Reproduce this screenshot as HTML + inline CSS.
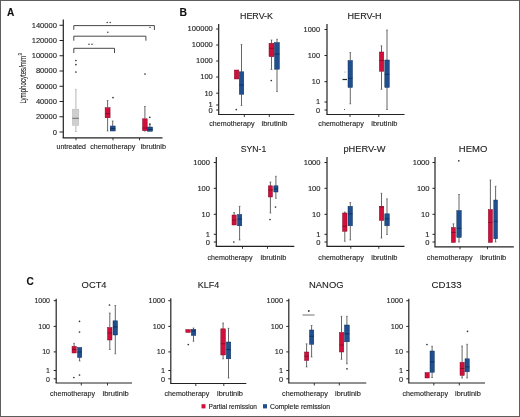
<!DOCTYPE html>
<html><head><meta charset="utf-8"><style>
html,body{margin:0;padding:0;background:#fff;width:520px;height:417px;overflow:hidden;}
svg{display:block;filter:blur(0.35px);font-family:"Liberation Sans", sans-serif;} text{stroke:#222;stroke-width:0.12px;}
</style></head><body>
<svg width="520" height="417" viewBox="0 0 520 417">
<rect x="0" y="0" width="520" height="417" fill="#ffffff"/>
<text x="7.00" y="15.60" font-size="10.5" font-weight="bold" fill="#111" text-anchor="start" textLength="7.30" lengthAdjust="spacingAndGlyphs">A</text>
<line x1="63.30" y1="19.50" x2="63.30" y2="138.00" stroke="#222222" stroke-width="1.2"/>
<line x1="59.50" y1="132.00" x2="63.30" y2="132.00" stroke="#222222" stroke-width="1.0"/>
<text x="52.70" y="135.00" font-size="7.2" font-weight="normal" fill="#222" text-anchor="start" textLength="4.20" lengthAdjust="spacingAndGlyphs">0</text>
<line x1="59.50" y1="116.75" x2="63.30" y2="116.75" stroke="#222222" stroke-width="1.0"/>
<text x="35.90" y="119.05" font-size="7.2" font-weight="normal" fill="#222" text-anchor="start" textLength="21.00" lengthAdjust="spacingAndGlyphs">20000</text>
<line x1="59.50" y1="101.50" x2="63.30" y2="101.50" stroke="#222222" stroke-width="1.0"/>
<text x="35.90" y="103.80" font-size="7.2" font-weight="normal" fill="#222" text-anchor="start" textLength="21.00" lengthAdjust="spacingAndGlyphs">40000</text>
<line x1="59.50" y1="86.25" x2="63.30" y2="86.25" stroke="#222222" stroke-width="1.0"/>
<text x="35.90" y="88.55" font-size="7.2" font-weight="normal" fill="#222" text-anchor="start" textLength="21.00" lengthAdjust="spacingAndGlyphs">60000</text>
<line x1="59.50" y1="71.00" x2="63.30" y2="71.00" stroke="#222222" stroke-width="1.0"/>
<text x="35.90" y="73.30" font-size="7.2" font-weight="normal" fill="#222" text-anchor="start" textLength="21.00" lengthAdjust="spacingAndGlyphs">80000</text>
<line x1="59.50" y1="55.75" x2="63.30" y2="55.75" stroke="#222222" stroke-width="1.0"/>
<text x="31.70" y="58.05" font-size="7.2" font-weight="normal" fill="#222" text-anchor="start" textLength="25.20" lengthAdjust="spacingAndGlyphs">100000</text>
<line x1="59.50" y1="40.50" x2="63.30" y2="40.50" stroke="#222222" stroke-width="1.0"/>
<text x="31.70" y="42.80" font-size="7.2" font-weight="normal" fill="#222" text-anchor="start" textLength="25.20" lengthAdjust="spacingAndGlyphs">120000</text>
<line x1="59.50" y1="25.25" x2="63.30" y2="25.25" stroke="#222222" stroke-width="1.0"/>
<text x="31.70" y="27.55" font-size="7.2" font-weight="normal" fill="#222" text-anchor="start" textLength="25.20" lengthAdjust="spacingAndGlyphs">140000</text>
<line x1="62.70" y1="137.80" x2="162.50" y2="137.80" stroke="#222222" stroke-width="1.2"/>
<line x1="76.00" y1="137.80" x2="76.00" y2="140.30" stroke="#222222" stroke-width="0.9"/>
<line x1="113.00" y1="137.80" x2="113.00" y2="140.30" stroke="#222222" stroke-width="0.9"/>
<line x1="139.50" y1="137.80" x2="139.50" y2="140.30" stroke="#222222" stroke-width="0.9"/>
<text x="56.50" y="149.30" font-size="7.5" font-weight="normal" fill="#222" text-anchor="start" textLength="29.50" lengthAdjust="spacingAndGlyphs">untreated</text>
<text x="90.20" y="149.30" font-size="7.5" font-weight="normal" fill="#222" text-anchor="start" textLength="45.10" lengthAdjust="spacingAndGlyphs">chemotherapy</text>
<text x="140.70" y="149.30" font-size="7.5" font-weight="normal" fill="#222" text-anchor="start" textLength="25.30" lengthAdjust="spacingAndGlyphs">ibrutinib</text>
<g transform="translate(25.7,103.6) rotate(-90)">
<text x="0.00" y="0.00" font-size="8.6" font-weight="normal" fill="#222" text-anchor="start" textLength="47.60" lengthAdjust="spacingAndGlyphs">Lymphocytes/mm</text>
<text x="48.20" y="-4.20" font-size="5.6" font-weight="normal" fill="#222" text-anchor="start" textLength="2.40" lengthAdjust="spacingAndGlyphs">3</text>
</g>
<polyline points="73.8,29.8 73.8,25.6 154.4,25.6 154.4,30.0" fill="none" stroke="#333" stroke-width="0.9"/>
<polyline points="73.8,40.7 73.8,36.2 145.9,36.2 145.9,40.7" fill="none" stroke="#333" stroke-width="0.9"/>
<polyline points="73.8,53.0 73.8,48.3 114.5,48.3 114.5,53.0" fill="none" stroke="#333" stroke-width="0.9"/>
<circle cx="107.20" cy="22.40" r="0.75" fill="#333"/>
<circle cx="110.20" cy="22.40" r="0.75" fill="#333"/>
<circle cx="107.80" cy="32.20" r="0.75" fill="#333"/>
<circle cx="89.00" cy="44.20" r="0.75" fill="#333"/>
<circle cx="92.00" cy="44.20" r="0.75" fill="#333"/>
<line x1="149.00" y1="27.40" x2="151.00" y2="27.40" stroke="#555" stroke-width="0.8"/>
<line x1="75.90" y1="89.30" x2="75.90" y2="109.20" stroke="#a8a8a8" stroke-width="0.85"/>
<line x1="75.00" y1="89.30" x2="76.80" y2="89.30" stroke="#a8a8a8" stroke-width="0.6"/>
<line x1="75.90" y1="125.40" x2="75.90" y2="131.50" stroke="#a8a8a8" stroke-width="0.85"/>
<line x1="75.00" y1="131.50" x2="76.80" y2="131.50" stroke="#a8a8a8" stroke-width="0.6"/>
<rect x="72.30" y="109.20" width="6.50" height="16.20" fill="#cfcfcf" stroke="#b5b5b5" stroke-width="0.45"/>
<line x1="72.30" y1="118.30" x2="78.80" y2="118.30" stroke="#555555" stroke-width="0.8"/>
<circle cx="75.90" cy="60.50" r="0.85" fill="#333"/>
<circle cx="75.90" cy="64.60" r="0.85" fill="#333"/>
<circle cx="75.90" cy="72.00" r="0.85" fill="#333"/>
<line x1="107.60" y1="100.50" x2="107.60" y2="107.70" stroke="#4a4a4a" stroke-width="0.85"/>
<line x1="106.70" y1="100.50" x2="108.50" y2="100.50" stroke="#4a4a4a" stroke-width="0.6"/>
<line x1="107.60" y1="117.80" x2="107.60" y2="131.00" stroke="#4a4a4a" stroke-width="0.85"/>
<line x1="106.70" y1="131.00" x2="108.50" y2="131.00" stroke="#4a4a4a" stroke-width="0.6"/>
<rect x="105.10" y="107.70" width="5.00" height="10.10" fill="#d0103a" stroke="#7a0a25" stroke-width="0.45"/>
<line x1="105.10" y1="113.70" x2="110.10" y2="113.70" stroke="#7a0a25" stroke-width="0.8"/>
<line x1="112.70" y1="121.00" x2="112.70" y2="126.00" stroke="#4a4a4a" stroke-width="0.85"/>
<line x1="111.80" y1="121.00" x2="113.60" y2="121.00" stroke="#4a4a4a" stroke-width="0.6"/>
<rect x="110.20" y="126.00" width="5.00" height="5.00" fill="#1f4f8e" stroke="#0b2a52" stroke-width="0.45"/>
<line x1="110.20" y1="128.50" x2="115.20" y2="128.50" stroke="#0b2a52" stroke-width="0.8"/>
<circle cx="113.00" cy="97.60" r="0.85" fill="#333"/>
<line x1="144.90" y1="106.50" x2="144.90" y2="118.80" stroke="#4a4a4a" stroke-width="0.85"/>
<line x1="144.00" y1="106.50" x2="145.80" y2="106.50" stroke="#4a4a4a" stroke-width="0.6"/>
<line x1="144.90" y1="130.70" x2="144.90" y2="131.00" stroke="#4a4a4a" stroke-width="0.85"/>
<line x1="144.00" y1="131.00" x2="145.80" y2="131.00" stroke="#4a4a4a" stroke-width="0.6"/>
<rect x="142.50" y="118.80" width="4.70" height="11.90" fill="#d0103a" stroke="#7a0a25" stroke-width="0.45"/>
<line x1="142.50" y1="128.00" x2="147.20" y2="128.00" stroke="#7a0a25" stroke-width="0.8"/>
<circle cx="145.00" cy="74.00" r="0.85" fill="#333"/>
<line x1="149.90" y1="124.50" x2="149.90" y2="127.00" stroke="#4a4a4a" stroke-width="0.85"/>
<line x1="149.00" y1="124.50" x2="150.80" y2="124.50" stroke="#4a4a4a" stroke-width="0.6"/>
<rect x="147.30" y="127.00" width="5.30" height="4.30" fill="#1f4f8e" stroke="#0b2a52" stroke-width="0.45"/>
<line x1="147.30" y1="129.50" x2="152.60" y2="129.50" stroke="#0b2a52" stroke-width="0.8"/>
<circle cx="149.80" cy="117.30" r="0.85" fill="#333"/>
<circle cx="149.80" cy="124.00" r="0.85" fill="#333"/>
<text x="179.50" y="15.60" font-size="10.5" font-weight="bold" fill="#111" text-anchor="start" textLength="7.50" lengthAdjust="spacingAndGlyphs">B</text>
<text x="240.00" y="19.20" font-size="9.2" font-weight="normal" fill="#222" text-anchor="start" textLength="33.00" lengthAdjust="spacingAndGlyphs">HERV-K</text>
<line x1="218.70" y1="24.00" x2="218.70" y2="114.50" stroke="#222222" stroke-width="1.2"/>
<line x1="216.20" y1="29.00" x2="218.70" y2="29.00" stroke="#222222" stroke-width="1.0"/>
<text x="187.60" y="31.30" font-size="7.0" font-weight="normal" fill="#222" text-anchor="start" textLength="25.20" lengthAdjust="spacingAndGlyphs">100000</text>
<line x1="216.20" y1="45.00" x2="218.70" y2="45.00" stroke="#222222" stroke-width="1.0"/>
<text x="191.80" y="47.30" font-size="7.0" font-weight="normal" fill="#222" text-anchor="start" textLength="21.00" lengthAdjust="spacingAndGlyphs">10000</text>
<line x1="216.20" y1="61.00" x2="218.70" y2="61.00" stroke="#222222" stroke-width="1.0"/>
<text x="196.00" y="63.30" font-size="7.0" font-weight="normal" fill="#222" text-anchor="start" textLength="16.80" lengthAdjust="spacingAndGlyphs">1000</text>
<line x1="216.20" y1="77.00" x2="218.70" y2="77.00" stroke="#222222" stroke-width="1.0"/>
<text x="200.20" y="79.30" font-size="7.0" font-weight="normal" fill="#222" text-anchor="start" textLength="12.60" lengthAdjust="spacingAndGlyphs">100</text>
<line x1="216.20" y1="93.20" x2="218.70" y2="93.20" stroke="#222222" stroke-width="1.0"/>
<text x="204.40" y="95.50" font-size="7.0" font-weight="normal" fill="#222" text-anchor="start" textLength="8.40" lengthAdjust="spacingAndGlyphs">10</text>
<line x1="216.20" y1="105.00" x2="218.70" y2="105.00" stroke="#222222" stroke-width="1.0"/>
<text x="208.60" y="107.30" font-size="7.0" font-weight="normal" fill="#222" text-anchor="start" textLength="4.20" lengthAdjust="spacingAndGlyphs">1</text>
<line x1="216.20" y1="110.00" x2="218.70" y2="110.00" stroke="#222222" stroke-width="1.0"/>
<text x="208.60" y="113.00" font-size="7.0" font-weight="normal" fill="#222" text-anchor="start" textLength="4.20" lengthAdjust="spacingAndGlyphs">0</text>
<line x1="218.10" y1="114.50" x2="294.30" y2="114.50" stroke="#222222" stroke-width="1.2"/>
<line x1="244.30" y1="114.50" x2="244.30" y2="117.00" stroke="#222222" stroke-width="0.9"/>
<line x1="269.30" y1="114.50" x2="269.30" y2="117.00" stroke="#222222" stroke-width="0.9"/>
<text x="209.30" y="126.30" font-size="7.5" font-weight="normal" fill="#222" text-anchor="start" textLength="45.20" lengthAdjust="spacingAndGlyphs">chemotherapy</text>
<text x="261.50" y="126.30" font-size="7.5" font-weight="normal" fill="#222" text-anchor="start" textLength="26.00" lengthAdjust="spacingAndGlyphs">ibrutinib</text>
<rect x="234.30" y="70.00" width="4.50" height="9.00" fill="#d0103a" stroke="#7a0a25" stroke-width="0.45"/>
<circle cx="236.30" cy="109.50" r="0.85" fill="#333"/>
<line x1="241.50" y1="44.50" x2="241.50" y2="71.80" stroke="#4a4a4a" stroke-width="0.85"/>
<line x1="240.60" y1="44.50" x2="242.40" y2="44.50" stroke="#4a4a4a" stroke-width="0.6"/>
<line x1="241.50" y1="94.30" x2="241.50" y2="105.50" stroke="#4a4a4a" stroke-width="0.85"/>
<line x1="240.60" y1="105.50" x2="242.40" y2="105.50" stroke="#4a4a4a" stroke-width="0.6"/>
<rect x="239.30" y="71.80" width="4.50" height="22.50" fill="#1f4f8e" stroke="#0b2a52" stroke-width="0.45"/>
<line x1="239.30" y1="85.00" x2="243.80" y2="85.00" stroke="#0b2a52" stroke-width="0.8"/>
<line x1="271.50" y1="40.00" x2="271.50" y2="43.20" stroke="#4a4a4a" stroke-width="0.85"/>
<line x1="270.60" y1="40.00" x2="272.40" y2="40.00" stroke="#4a4a4a" stroke-width="0.6"/>
<line x1="271.50" y1="56.70" x2="271.50" y2="69.50" stroke="#4a4a4a" stroke-width="0.85"/>
<line x1="270.60" y1="69.50" x2="272.40" y2="69.50" stroke="#4a4a4a" stroke-width="0.6"/>
<rect x="269.00" y="43.20" width="5.10" height="13.50" fill="#d0103a" stroke="#7a0a25" stroke-width="0.45"/>
<line x1="269.00" y1="48.30" x2="274.10" y2="48.30" stroke="#7a0a25" stroke-width="0.8"/>
<circle cx="271.30" cy="80.50" r="0.85" fill="#333"/>
<line x1="277.00" y1="39.30" x2="277.00" y2="42.50" stroke="#4a4a4a" stroke-width="0.85"/>
<line x1="276.10" y1="39.30" x2="277.90" y2="39.30" stroke="#4a4a4a" stroke-width="0.6"/>
<line x1="277.00" y1="69.20" x2="277.00" y2="91.50" stroke="#4a4a4a" stroke-width="0.85"/>
<line x1="276.10" y1="91.50" x2="277.90" y2="91.50" stroke="#4a4a4a" stroke-width="0.6"/>
<rect x="274.60" y="42.50" width="4.80" height="26.70" fill="#1f4f8e" stroke="#0b2a52" stroke-width="0.45"/>
<line x1="274.60" y1="54.00" x2="279.40" y2="54.00" stroke="#0b2a52" stroke-width="0.8"/>
<text x="347.60" y="19.20" font-size="9.2" font-weight="normal" fill="#222" text-anchor="start" textLength="34.00" lengthAdjust="spacingAndGlyphs">HERV-H</text>
<line x1="327.00" y1="24.00" x2="327.00" y2="114.50" stroke="#222222" stroke-width="1.2"/>
<line x1="324.50" y1="29.50" x2="327.00" y2="29.50" stroke="#222222" stroke-width="1.0"/>
<text x="303.60" y="31.80" font-size="7.0" font-weight="normal" fill="#222" text-anchor="start" textLength="16.40" lengthAdjust="spacingAndGlyphs">1000</text>
<line x1="324.50" y1="55.50" x2="327.00" y2="55.50" stroke="#222222" stroke-width="1.0"/>
<text x="307.70" y="57.80" font-size="7.0" font-weight="normal" fill="#222" text-anchor="start" textLength="12.30" lengthAdjust="spacingAndGlyphs">100</text>
<line x1="324.50" y1="81.70" x2="327.00" y2="81.70" stroke="#222222" stroke-width="1.0"/>
<text x="311.80" y="84.00" font-size="7.0" font-weight="normal" fill="#222" text-anchor="start" textLength="8.20" lengthAdjust="spacingAndGlyphs">10</text>
<line x1="324.50" y1="102.00" x2="327.00" y2="102.00" stroke="#222222" stroke-width="1.0"/>
<text x="315.90" y="104.30" font-size="7.0" font-weight="normal" fill="#222" text-anchor="start" textLength="4.10" lengthAdjust="spacingAndGlyphs">1</text>
<line x1="324.50" y1="110.00" x2="327.00" y2="110.00" stroke="#222222" stroke-width="1.0"/>
<text x="315.90" y="113.00" font-size="7.0" font-weight="normal" fill="#222" text-anchor="start" textLength="4.10" lengthAdjust="spacingAndGlyphs">0</text>
<line x1="326.40" y1="114.50" x2="404.50" y2="114.50" stroke="#222222" stroke-width="1.2"/>
<line x1="350.00" y1="114.50" x2="350.00" y2="117.00" stroke="#222222" stroke-width="0.9"/>
<line x1="378.80" y1="114.50" x2="378.80" y2="117.00" stroke="#222222" stroke-width="0.9"/>
<text x="318.30" y="126.30" font-size="7.5" font-weight="normal" fill="#222" text-anchor="start" textLength="45.50" lengthAdjust="spacingAndGlyphs">chemotherapy</text>
<text x="371.30" y="126.30" font-size="7.5" font-weight="normal" fill="#222" text-anchor="start" textLength="26.20" lengthAdjust="spacingAndGlyphs">ibrutinib</text>
<line x1="342.50" y1="79.50" x2="347.00" y2="79.50" stroke="#222" stroke-width="1.2"/>
<circle cx="345.00" cy="72.00" r="0.5" fill="#777"/>
<circle cx="344.50" cy="109.50" r="0.55" fill="#333"/>
<line x1="350.30" y1="52.50" x2="350.30" y2="60.50" stroke="#4a4a4a" stroke-width="0.85"/>
<line x1="349.40" y1="52.50" x2="351.20" y2="52.50" stroke="#4a4a4a" stroke-width="0.6"/>
<line x1="350.30" y1="87.50" x2="350.30" y2="103.80" stroke="#4a4a4a" stroke-width="0.85"/>
<line x1="349.40" y1="103.80" x2="351.20" y2="103.80" stroke="#4a4a4a" stroke-width="0.6"/>
<rect x="348.00" y="60.50" width="4.50" height="27.00" fill="#1f4f8e" stroke="#0b2a52" stroke-width="0.45"/>
<line x1="348.00" y1="78.30" x2="352.50" y2="78.30" stroke="#0b2a52" stroke-width="0.8"/>
<line x1="381.50" y1="45.80" x2="381.50" y2="52.00" stroke="#4a4a4a" stroke-width="0.85"/>
<line x1="380.60" y1="45.80" x2="382.40" y2="45.80" stroke="#4a4a4a" stroke-width="0.6"/>
<line x1="381.50" y1="71.30" x2="381.50" y2="89.30" stroke="#4a4a4a" stroke-width="0.85"/>
<line x1="380.60" y1="89.30" x2="382.40" y2="89.30" stroke="#4a4a4a" stroke-width="0.6"/>
<rect x="379.30" y="52.00" width="4.50" height="19.30" fill="#d0103a" stroke="#7a0a25" stroke-width="0.45"/>
<line x1="379.30" y1="60.50" x2="383.80" y2="60.50" stroke="#7a0a25" stroke-width="0.8"/>
<line x1="387.00" y1="30.00" x2="387.00" y2="60.00" stroke="#4a4a4a" stroke-width="0.85"/>
<line x1="386.10" y1="30.00" x2="387.90" y2="30.00" stroke="#4a4a4a" stroke-width="0.6"/>
<line x1="387.00" y1="87.50" x2="387.00" y2="109.50" stroke="#4a4a4a" stroke-width="0.85"/>
<line x1="386.10" y1="109.50" x2="387.90" y2="109.50" stroke="#4a4a4a" stroke-width="0.6"/>
<rect x="384.80" y="60.00" width="4.50" height="27.50" fill="#1f4f8e" stroke="#0b2a52" stroke-width="0.45"/>
<line x1="384.80" y1="74.30" x2="389.30" y2="74.30" stroke="#0b2a52" stroke-width="0.8"/>
<text x="240.75" y="151.80" font-size="9.2" font-weight="normal" fill="#222" text-anchor="start" textLength="25.50" lengthAdjust="spacingAndGlyphs">SYN-1</text>
<line x1="216.30" y1="157.00" x2="216.30" y2="246.30" stroke="#222222" stroke-width="1.2"/>
<line x1="213.80" y1="162.50" x2="216.30" y2="162.50" stroke="#222222" stroke-width="1.0"/>
<text x="193.20" y="164.80" font-size="7.0" font-weight="normal" fill="#222" text-anchor="start" textLength="16.80" lengthAdjust="spacingAndGlyphs">1000</text>
<line x1="213.80" y1="188.30" x2="216.30" y2="188.30" stroke="#222222" stroke-width="1.0"/>
<text x="197.40" y="190.60" font-size="7.0" font-weight="normal" fill="#222" text-anchor="start" textLength="12.60" lengthAdjust="spacingAndGlyphs">100</text>
<line x1="213.80" y1="214.30" x2="216.30" y2="214.30" stroke="#222222" stroke-width="1.0"/>
<text x="201.60" y="216.60" font-size="7.0" font-weight="normal" fill="#222" text-anchor="start" textLength="8.40" lengthAdjust="spacingAndGlyphs">10</text>
<line x1="213.80" y1="234.30" x2="216.30" y2="234.30" stroke="#222222" stroke-width="1.0"/>
<text x="205.80" y="236.60" font-size="7.0" font-weight="normal" fill="#222" text-anchor="start" textLength="4.20" lengthAdjust="spacingAndGlyphs">1</text>
<line x1="213.80" y1="242.00" x2="216.30" y2="242.00" stroke="#222222" stroke-width="1.0"/>
<text x="205.80" y="245.00" font-size="7.0" font-weight="normal" fill="#222" text-anchor="start" textLength="4.20" lengthAdjust="spacingAndGlyphs">0</text>
<line x1="215.70" y1="246.30" x2="294.30" y2="246.30" stroke="#222222" stroke-width="1.2"/>
<line x1="242.50" y1="246.30" x2="242.50" y2="248.80" stroke="#222222" stroke-width="0.9"/>
<line x1="267.50" y1="246.30" x2="267.50" y2="248.80" stroke="#222222" stroke-width="0.9"/>
<text x="207.50" y="260.30" font-size="7.5" font-weight="normal" fill="#222" text-anchor="start" textLength="45.00" lengthAdjust="spacingAndGlyphs">chemotherapy</text>
<text x="260.50" y="260.30" font-size="7.5" font-weight="normal" fill="#222" text-anchor="start" textLength="25.80" lengthAdjust="spacingAndGlyphs">ibrutinib</text>
<line x1="234.10" y1="212.50" x2="234.10" y2="215.00" stroke="#4a4a4a" stroke-width="0.85"/>
<line x1="233.20" y1="212.50" x2="235.00" y2="212.50" stroke="#4a4a4a" stroke-width="0.6"/>
<rect x="232.00" y="215.00" width="4.30" height="10.00" fill="#d0103a" stroke="#7a0a25" stroke-width="0.45"/>
<line x1="232.00" y1="220.00" x2="236.30" y2="220.00" stroke="#7a0a25" stroke-width="0.8"/>
<circle cx="233.80" cy="242.00" r="0.85" fill="#333"/>
<line x1="239.60" y1="206.30" x2="239.60" y2="214.50" stroke="#4a4a4a" stroke-width="0.85"/>
<line x1="238.70" y1="206.30" x2="240.50" y2="206.30" stroke="#4a4a4a" stroke-width="0.6"/>
<line x1="239.60" y1="225.80" x2="239.60" y2="240.00" stroke="#4a4a4a" stroke-width="0.85"/>
<line x1="238.70" y1="240.00" x2="240.50" y2="240.00" stroke="#4a4a4a" stroke-width="0.6"/>
<rect x="237.50" y="214.50" width="4.30" height="11.30" fill="#1f4f8e" stroke="#0b2a52" stroke-width="0.45"/>
<line x1="237.50" y1="219.00" x2="241.80" y2="219.00" stroke="#0b2a52" stroke-width="0.8"/>
<line x1="270.40" y1="182.00" x2="270.40" y2="185.80" stroke="#4a4a4a" stroke-width="0.85"/>
<line x1="269.50" y1="182.00" x2="271.30" y2="182.00" stroke="#4a4a4a" stroke-width="0.6"/>
<line x1="270.40" y1="197.00" x2="270.40" y2="213.00" stroke="#4a4a4a" stroke-width="0.85"/>
<line x1="269.50" y1="213.00" x2="271.30" y2="213.00" stroke="#4a4a4a" stroke-width="0.6"/>
<rect x="268.30" y="185.80" width="4.20" height="11.20" fill="#d0103a" stroke="#7a0a25" stroke-width="0.45"/>
<line x1="268.30" y1="190.00" x2="272.50" y2="190.00" stroke="#7a0a25" stroke-width="0.8"/>
<circle cx="270.00" cy="219.50" r="0.85" fill="#333"/>
<line x1="275.90" y1="176.30" x2="275.90" y2="185.80" stroke="#4a4a4a" stroke-width="0.85"/>
<line x1="275.00" y1="176.30" x2="276.80" y2="176.30" stroke="#4a4a4a" stroke-width="0.6"/>
<line x1="275.90" y1="192.00" x2="275.90" y2="198.30" stroke="#4a4a4a" stroke-width="0.85"/>
<line x1="275.00" y1="198.30" x2="276.80" y2="198.30" stroke="#4a4a4a" stroke-width="0.6"/>
<rect x="273.80" y="185.80" width="4.20" height="6.20" fill="#1f4f8e" stroke="#0b2a52" stroke-width="0.45"/>
<line x1="273.80" y1="189.00" x2="278.00" y2="189.00" stroke="#0b2a52" stroke-width="0.8"/>
<circle cx="275.50" cy="207.00" r="0.85" fill="#333"/>
<text x="343.40" y="151.80" font-size="9.2" font-weight="normal" fill="#222" text-anchor="start" textLength="42.00" lengthAdjust="spacingAndGlyphs">pHERV-W</text>
<line x1="327.00" y1="157.00" x2="327.00" y2="246.30" stroke="#222222" stroke-width="1.2"/>
<line x1="324.50" y1="162.50" x2="327.00" y2="162.50" stroke="#222222" stroke-width="1.0"/>
<text x="303.70" y="164.80" font-size="7.0" font-weight="normal" fill="#222" text-anchor="start" textLength="16.80" lengthAdjust="spacingAndGlyphs">1000</text>
<line x1="324.50" y1="188.30" x2="327.00" y2="188.30" stroke="#222222" stroke-width="1.0"/>
<text x="307.90" y="190.60" font-size="7.0" font-weight="normal" fill="#222" text-anchor="start" textLength="12.60" lengthAdjust="spacingAndGlyphs">100</text>
<line x1="324.50" y1="214.30" x2="327.00" y2="214.30" stroke="#222222" stroke-width="1.0"/>
<text x="312.10" y="216.60" font-size="7.0" font-weight="normal" fill="#222" text-anchor="start" textLength="8.40" lengthAdjust="spacingAndGlyphs">10</text>
<line x1="324.50" y1="234.30" x2="327.00" y2="234.30" stroke="#222222" stroke-width="1.0"/>
<text x="316.30" y="236.60" font-size="7.0" font-weight="normal" fill="#222" text-anchor="start" textLength="4.20" lengthAdjust="spacingAndGlyphs">1</text>
<line x1="324.50" y1="242.00" x2="327.00" y2="242.00" stroke="#222222" stroke-width="1.0"/>
<text x="316.30" y="245.00" font-size="7.0" font-weight="normal" fill="#222" text-anchor="start" textLength="4.20" lengthAdjust="spacingAndGlyphs">0</text>
<line x1="326.40" y1="246.30" x2="404.50" y2="246.30" stroke="#222222" stroke-width="1.2"/>
<line x1="350.80" y1="246.30" x2="350.80" y2="248.80" stroke="#222222" stroke-width="0.9"/>
<line x1="378.80" y1="246.30" x2="378.80" y2="248.80" stroke="#222222" stroke-width="0.9"/>
<text x="318.30" y="260.30" font-size="7.5" font-weight="normal" fill="#222" text-anchor="start" textLength="45.50" lengthAdjust="spacingAndGlyphs">chemotherapy</text>
<text x="371.30" y="260.30" font-size="7.5" font-weight="normal" fill="#222" text-anchor="start" textLength="26.20" lengthAdjust="spacingAndGlyphs">ibrutinib</text>
<line x1="344.80" y1="212.00" x2="344.80" y2="213.00" stroke="#4a4a4a" stroke-width="0.85"/>
<line x1="343.90" y1="212.00" x2="345.70" y2="212.00" stroke="#4a4a4a" stroke-width="0.6"/>
<line x1="344.80" y1="231.30" x2="344.80" y2="241.30" stroke="#4a4a4a" stroke-width="0.85"/>
<line x1="343.90" y1="241.30" x2="345.70" y2="241.30" stroke="#4a4a4a" stroke-width="0.6"/>
<rect x="342.50" y="213.00" width="4.50" height="18.30" fill="#d0103a" stroke="#7a0a25" stroke-width="0.45"/>
<line x1="342.50" y1="226.30" x2="347.00" y2="226.30" stroke="#7a0a25" stroke-width="0.8"/>
<line x1="350.30" y1="202.50" x2="350.30" y2="206.30" stroke="#4a4a4a" stroke-width="0.85"/>
<line x1="349.40" y1="202.50" x2="351.20" y2="202.50" stroke="#4a4a4a" stroke-width="0.6"/>
<line x1="350.30" y1="225.80" x2="350.30" y2="240.00" stroke="#4a4a4a" stroke-width="0.85"/>
<line x1="349.40" y1="240.00" x2="351.20" y2="240.00" stroke="#4a4a4a" stroke-width="0.6"/>
<rect x="348.00" y="206.30" width="4.50" height="19.50" fill="#1f4f8e" stroke="#0b2a52" stroke-width="0.45"/>
<line x1="348.00" y1="213.80" x2="352.50" y2="213.80" stroke="#0b2a52" stroke-width="0.8"/>
<line x1="381.50" y1="193.30" x2="381.50" y2="206.30" stroke="#4a4a4a" stroke-width="0.85"/>
<line x1="380.60" y1="193.30" x2="382.40" y2="193.30" stroke="#4a4a4a" stroke-width="0.6"/>
<line x1="381.50" y1="220.50" x2="381.50" y2="238.00" stroke="#4a4a4a" stroke-width="0.85"/>
<line x1="380.60" y1="238.00" x2="382.40" y2="238.00" stroke="#4a4a4a" stroke-width="0.6"/>
<rect x="379.30" y="206.30" width="4.50" height="14.20" fill="#d0103a" stroke="#7a0a25" stroke-width="0.45"/>
<line x1="379.30" y1="207.00" x2="383.80" y2="207.00" stroke="#7a0a25" stroke-width="0.8"/>
<line x1="387.00" y1="198.80" x2="387.00" y2="213.80" stroke="#4a4a4a" stroke-width="0.85"/>
<line x1="386.10" y1="198.80" x2="387.90" y2="198.80" stroke="#4a4a4a" stroke-width="0.6"/>
<line x1="387.00" y1="225.80" x2="387.00" y2="234.50" stroke="#4a4a4a" stroke-width="0.85"/>
<line x1="386.10" y1="234.50" x2="387.90" y2="234.50" stroke="#4a4a4a" stroke-width="0.6"/>
<rect x="384.80" y="213.80" width="4.50" height="12.00" fill="#1f4f8e" stroke="#0b2a52" stroke-width="0.45"/>
<line x1="384.80" y1="218.80" x2="389.30" y2="218.80" stroke="#0b2a52" stroke-width="0.8"/>
<text x="458.85" y="151.80" font-size="9.2" font-weight="normal" fill="#222" text-anchor="start" textLength="28.50" lengthAdjust="spacingAndGlyphs">HEMO</text>
<line x1="435.00" y1="157.00" x2="435.00" y2="246.80" stroke="#222222" stroke-width="1.2"/>
<line x1="432.50" y1="162.50" x2="435.00" y2="162.50" stroke="#222222" stroke-width="1.0"/>
<text x="412.70" y="164.80" font-size="7.0" font-weight="normal" fill="#222" text-anchor="start" textLength="16.80" lengthAdjust="spacingAndGlyphs">1000</text>
<line x1="432.50" y1="188.30" x2="435.00" y2="188.30" stroke="#222222" stroke-width="1.0"/>
<text x="416.90" y="190.60" font-size="7.0" font-weight="normal" fill="#222" text-anchor="start" textLength="12.60" lengthAdjust="spacingAndGlyphs">100</text>
<line x1="432.50" y1="214.30" x2="435.00" y2="214.30" stroke="#222222" stroke-width="1.0"/>
<text x="421.10" y="216.60" font-size="7.0" font-weight="normal" fill="#222" text-anchor="start" textLength="8.40" lengthAdjust="spacingAndGlyphs">10</text>
<line x1="432.50" y1="234.30" x2="435.00" y2="234.30" stroke="#222222" stroke-width="1.0"/>
<text x="425.30" y="236.60" font-size="7.0" font-weight="normal" fill="#222" text-anchor="start" textLength="4.20" lengthAdjust="spacingAndGlyphs">1</text>
<line x1="432.50" y1="242.00" x2="435.00" y2="242.00" stroke="#222222" stroke-width="1.0"/>
<text x="425.30" y="245.00" font-size="7.0" font-weight="normal" fill="#222" text-anchor="start" textLength="4.20" lengthAdjust="spacingAndGlyphs">0</text>
<line x1="434.40" y1="246.80" x2="513.80" y2="246.80" stroke="#222222" stroke-width="1.2"/>
<line x1="460.00" y1="246.80" x2="460.00" y2="249.30" stroke="#222222" stroke-width="0.9"/>
<line x1="487.50" y1="246.80" x2="487.50" y2="249.30" stroke="#222222" stroke-width="0.9"/>
<text x="426.80" y="260.30" font-size="7.5" font-weight="normal" fill="#222" text-anchor="start" textLength="45.70" lengthAdjust="spacingAndGlyphs">chemotherapy</text>
<text x="480.00" y="260.30" font-size="7.5" font-weight="normal" fill="#222" text-anchor="start" textLength="26.30" lengthAdjust="spacingAndGlyphs">ibrutinib</text>
<line x1="453.40" y1="223.80" x2="453.40" y2="227.50" stroke="#4a4a4a" stroke-width="0.85"/>
<line x1="452.50" y1="223.80" x2="454.30" y2="223.80" stroke="#4a4a4a" stroke-width="0.6"/>
<rect x="451.30" y="227.50" width="4.20" height="15.00" fill="#d0103a" stroke="#7a0a25" stroke-width="0.45"/>
<line x1="451.30" y1="232.50" x2="455.50" y2="232.50" stroke="#7a0a25" stroke-width="0.8"/>
<line x1="459.00" y1="194.50" x2="459.00" y2="210.50" stroke="#4a4a4a" stroke-width="0.85"/>
<line x1="458.10" y1="194.50" x2="459.90" y2="194.50" stroke="#4a4a4a" stroke-width="0.6"/>
<line x1="459.00" y1="237.50" x2="459.00" y2="242.00" stroke="#4a4a4a" stroke-width="0.85"/>
<line x1="458.10" y1="242.00" x2="459.90" y2="242.00" stroke="#4a4a4a" stroke-width="0.6"/>
<rect x="456.80" y="210.50" width="4.50" height="27.00" fill="#1f4f8e" stroke="#0b2a52" stroke-width="0.45"/>
<line x1="456.80" y1="228.30" x2="461.30" y2="228.30" stroke="#0b2a52" stroke-width="0.8"/>
<circle cx="458.80" cy="160.80" r="0.85" fill="#333"/>
<line x1="490.40" y1="180.00" x2="490.40" y2="209.50" stroke="#4a4a4a" stroke-width="0.85"/>
<line x1="489.50" y1="180.00" x2="491.30" y2="180.00" stroke="#4a4a4a" stroke-width="0.6"/>
<rect x="488.30" y="209.50" width="4.20" height="33.00" fill="#d0103a" stroke="#7a0a25" stroke-width="0.45"/>
<line x1="488.30" y1="222.50" x2="492.50" y2="222.50" stroke="#7a0a25" stroke-width="0.8"/>
<line x1="495.60" y1="186.30" x2="495.60" y2="200.00" stroke="#4a4a4a" stroke-width="0.85"/>
<line x1="494.70" y1="186.30" x2="496.50" y2="186.30" stroke="#4a4a4a" stroke-width="0.6"/>
<line x1="495.60" y1="238.80" x2="495.60" y2="242.00" stroke="#4a4a4a" stroke-width="0.85"/>
<line x1="494.70" y1="242.00" x2="496.50" y2="242.00" stroke="#4a4a4a" stroke-width="0.6"/>
<rect x="493.80" y="200.00" width="3.70" height="38.80" fill="#1f4f8e" stroke="#0b2a52" stroke-width="0.45"/>
<line x1="493.80" y1="221.30" x2="497.50" y2="221.30" stroke="#0b2a52" stroke-width="0.8"/>
<text x="26.60" y="284.60" font-size="10.5" font-weight="bold" fill="#111" text-anchor="start" textLength="7.30" lengthAdjust="spacingAndGlyphs">C</text>
<text x="81.60" y="288.00" font-size="9.2" font-weight="normal" fill="#222" text-anchor="start" textLength="25.00" lengthAdjust="spacingAndGlyphs">OCT4</text>
<line x1="56.20" y1="298.70" x2="56.20" y2="383.00" stroke="#222222" stroke-width="1.2"/>
<line x1="53.70" y1="300.70" x2="56.20" y2="300.70" stroke="#222222" stroke-width="1.0"/>
<text x="34.40" y="303.00" font-size="7.0" font-weight="normal" fill="#222" text-anchor="start" textLength="15.60" lengthAdjust="spacingAndGlyphs">1000</text>
<line x1="53.70" y1="326.40" x2="56.20" y2="326.40" stroke="#222222" stroke-width="1.0"/>
<text x="38.30" y="328.70" font-size="7.0" font-weight="normal" fill="#222" text-anchor="start" textLength="11.70" lengthAdjust="spacingAndGlyphs">100</text>
<line x1="53.70" y1="351.90" x2="56.20" y2="351.90" stroke="#222222" stroke-width="1.0"/>
<text x="42.20" y="354.20" font-size="7.0" font-weight="normal" fill="#222" text-anchor="start" textLength="7.80" lengthAdjust="spacingAndGlyphs">10</text>
<line x1="53.70" y1="370.50" x2="56.20" y2="370.50" stroke="#222222" stroke-width="1.0"/>
<text x="46.10" y="372.80" font-size="7.0" font-weight="normal" fill="#222" text-anchor="start" textLength="3.90" lengthAdjust="spacingAndGlyphs">1</text>
<line x1="53.70" y1="378.80" x2="56.20" y2="378.80" stroke="#222222" stroke-width="1.0"/>
<text x="46.10" y="381.80" font-size="7.0" font-weight="normal" fill="#222" text-anchor="start" textLength="3.90" lengthAdjust="spacingAndGlyphs">0</text>
<line x1="55.60" y1="383.00" x2="132.00" y2="383.00" stroke="#222222" stroke-width="1.2"/>
<line x1="81.30" y1="383.00" x2="81.30" y2="385.50" stroke="#222222" stroke-width="0.9"/>
<line x1="107.50" y1="383.00" x2="107.50" y2="385.50" stroke="#222222" stroke-width="0.9"/>
<text x="50.00" y="396.30" font-size="7.5" font-weight="normal" fill="#222" text-anchor="start" textLength="45.00" lengthAdjust="spacingAndGlyphs">chemotherapy</text>
<text x="102.50" y="396.30" font-size="7.5" font-weight="normal" fill="#222" text-anchor="start" textLength="26.30" lengthAdjust="spacingAndGlyphs">ibrutinib</text>
<line x1="74.10" y1="343.30" x2="74.10" y2="346.30" stroke="#4a4a4a" stroke-width="0.85"/>
<line x1="73.20" y1="343.30" x2="75.00" y2="343.30" stroke="#4a4a4a" stroke-width="0.6"/>
<rect x="72.00" y="346.30" width="4.30" height="6.70" fill="#d0103a" stroke="#7a0a25" stroke-width="0.45"/>
<line x1="72.00" y1="349.50" x2="76.30" y2="349.50" stroke="#7a0a25" stroke-width="0.8"/>
<circle cx="73.80" cy="377.50" r="0.85" fill="#333"/>
<line x1="79.60" y1="357.50" x2="79.60" y2="361.00" stroke="#4a4a4a" stroke-width="0.85"/>
<line x1="78.70" y1="361.00" x2="80.50" y2="361.00" stroke="#4a4a4a" stroke-width="0.6"/>
<rect x="77.50" y="347.50" width="4.30" height="10.00" fill="#1f4f8e" stroke="#0b2a52" stroke-width="0.45"/>
<line x1="77.50" y1="352.00" x2="81.80" y2="352.00" stroke="#0b2a52" stroke-width="0.8"/>
<circle cx="79.50" cy="321.30" r="0.85" fill="#333"/>
<circle cx="79.50" cy="332.00" r="0.85" fill="#333"/>
<circle cx="79.50" cy="375.00" r="0.85" fill="#333"/>
<line x1="109.80" y1="313.00" x2="109.80" y2="327.50" stroke="#4a4a4a" stroke-width="0.85"/>
<line x1="108.90" y1="313.00" x2="110.70" y2="313.00" stroke="#4a4a4a" stroke-width="0.6"/>
<line x1="109.80" y1="340.00" x2="109.80" y2="349.50" stroke="#4a4a4a" stroke-width="0.85"/>
<line x1="108.90" y1="349.50" x2="110.70" y2="349.50" stroke="#4a4a4a" stroke-width="0.6"/>
<rect x="107.50" y="327.50" width="4.50" height="12.50" fill="#d0103a" stroke="#7a0a25" stroke-width="0.45"/>
<line x1="107.50" y1="333.00" x2="112.00" y2="333.00" stroke="#7a0a25" stroke-width="0.8"/>
<circle cx="109.50" cy="305.00" r="0.85" fill="#333"/>
<line x1="115.30" y1="305.50" x2="115.30" y2="320.80" stroke="#4a4a4a" stroke-width="0.85"/>
<line x1="114.40" y1="305.50" x2="116.20" y2="305.50" stroke="#4a4a4a" stroke-width="0.6"/>
<line x1="115.30" y1="335.00" x2="115.30" y2="353.80" stroke="#4a4a4a" stroke-width="0.85"/>
<line x1="114.40" y1="353.80" x2="116.20" y2="353.80" stroke="#4a4a4a" stroke-width="0.6"/>
<rect x="113.00" y="320.80" width="4.50" height="14.20" fill="#1f4f8e" stroke="#0b2a52" stroke-width="0.45"/>
<line x1="113.00" y1="327.00" x2="117.50" y2="327.00" stroke="#0b2a52" stroke-width="0.8"/>
<text x="197.75" y="288.00" font-size="9.2" font-weight="normal" fill="#222" text-anchor="start" textLength="21.50" lengthAdjust="spacingAndGlyphs">KLF4</text>
<line x1="170.80" y1="298.30" x2="170.80" y2="383.50" stroke="#222222" stroke-width="1.2"/>
<line x1="168.30" y1="300.70" x2="170.80" y2="300.70" stroke="#222222" stroke-width="1.0"/>
<text x="148.60" y="303.00" font-size="7.0" font-weight="normal" fill="#222" text-anchor="start" textLength="16.40" lengthAdjust="spacingAndGlyphs">1000</text>
<line x1="168.30" y1="326.40" x2="170.80" y2="326.40" stroke="#222222" stroke-width="1.0"/>
<text x="152.70" y="328.70" font-size="7.0" font-weight="normal" fill="#222" text-anchor="start" textLength="12.30" lengthAdjust="spacingAndGlyphs">100</text>
<line x1="168.30" y1="351.90" x2="170.80" y2="351.90" stroke="#222222" stroke-width="1.0"/>
<text x="156.80" y="354.20" font-size="7.0" font-weight="normal" fill="#222" text-anchor="start" textLength="8.20" lengthAdjust="spacingAndGlyphs">10</text>
<line x1="168.30" y1="370.50" x2="170.80" y2="370.50" stroke="#222222" stroke-width="1.0"/>
<text x="160.90" y="372.80" font-size="7.0" font-weight="normal" fill="#222" text-anchor="start" textLength="4.10" lengthAdjust="spacingAndGlyphs">1</text>
<line x1="168.30" y1="378.80" x2="170.80" y2="378.80" stroke="#222222" stroke-width="1.0"/>
<text x="160.90" y="381.80" font-size="7.0" font-weight="normal" fill="#222" text-anchor="start" textLength="4.10" lengthAdjust="spacingAndGlyphs">0</text>
<line x1="170.20" y1="383.50" x2="246.30" y2="383.50" stroke="#222222" stroke-width="1.2"/>
<line x1="195.80" y1="383.50" x2="195.80" y2="386.00" stroke="#222222" stroke-width="0.9"/>
<line x1="223.80" y1="383.50" x2="223.80" y2="386.00" stroke="#222222" stroke-width="0.9"/>
<text x="164.50" y="396.30" font-size="7.5" font-weight="normal" fill="#222" text-anchor="start" textLength="44.80" lengthAdjust="spacingAndGlyphs">chemotherapy</text>
<text x="217.00" y="396.30" font-size="7.5" font-weight="normal" fill="#222" text-anchor="start" textLength="26.00" lengthAdjust="spacingAndGlyphs">ibrutinib</text>
<rect x="185.80" y="329.50" width="4.70" height="3.00" fill="#d0103a" stroke="#7a0a25" stroke-width="0.45"/>
<circle cx="188.30" cy="344.50" r="0.85" fill="#333"/>
<line x1="193.50" y1="328.00" x2="193.50" y2="329.30" stroke="#4a4a4a" stroke-width="0.85"/>
<line x1="192.60" y1="328.00" x2="194.40" y2="328.00" stroke="#4a4a4a" stroke-width="0.6"/>
<line x1="193.50" y1="335.50" x2="193.50" y2="341.30" stroke="#4a4a4a" stroke-width="0.85"/>
<line x1="192.60" y1="341.30" x2="194.40" y2="341.30" stroke="#4a4a4a" stroke-width="0.6"/>
<rect x="191.30" y="329.30" width="4.50" height="6.20" fill="#1f4f8e" stroke="#0b2a52" stroke-width="0.45"/>
<line x1="191.30" y1="331.00" x2="195.80" y2="331.00" stroke="#0b2a52" stroke-width="0.8"/>
<line x1="223.10" y1="323.00" x2="223.10" y2="328.80" stroke="#4a4a4a" stroke-width="0.85"/>
<line x1="222.20" y1="323.00" x2="224.00" y2="323.00" stroke="#4a4a4a" stroke-width="0.6"/>
<line x1="223.10" y1="355.00" x2="223.10" y2="358.80" stroke="#4a4a4a" stroke-width="0.85"/>
<line x1="222.20" y1="358.80" x2="224.00" y2="358.80" stroke="#4a4a4a" stroke-width="0.6"/>
<rect x="220.80" y="328.80" width="4.70" height="26.20" fill="#d0103a" stroke="#7a0a25" stroke-width="0.45"/>
<line x1="220.80" y1="343.80" x2="225.50" y2="343.80" stroke="#7a0a25" stroke-width="0.8"/>
<line x1="228.50" y1="328.30" x2="228.50" y2="342.00" stroke="#4a4a4a" stroke-width="0.85"/>
<line x1="227.60" y1="328.30" x2="229.40" y2="328.30" stroke="#4a4a4a" stroke-width="0.6"/>
<line x1="228.50" y1="358.80" x2="228.50" y2="378.00" stroke="#4a4a4a" stroke-width="0.85"/>
<line x1="227.60" y1="378.00" x2="229.40" y2="378.00" stroke="#4a4a4a" stroke-width="0.6"/>
<rect x="226.30" y="342.00" width="4.50" height="16.80" fill="#1f4f8e" stroke="#0b2a52" stroke-width="0.45"/>
<line x1="226.30" y1="349.50" x2="230.80" y2="349.50" stroke="#0b2a52" stroke-width="0.8"/>
<text x="309.05" y="288.00" font-size="9.2" font-weight="normal" fill="#222" text-anchor="start" textLength="34.50" lengthAdjust="spacingAndGlyphs">NANOG</text>
<line x1="288.80" y1="298.70" x2="288.80" y2="383.00" stroke="#222222" stroke-width="1.2"/>
<line x1="286.30" y1="300.70" x2="288.80" y2="300.70" stroke="#222222" stroke-width="1.0"/>
<text x="266.60" y="303.00" font-size="7.0" font-weight="normal" fill="#222" text-anchor="start" textLength="16.40" lengthAdjust="spacingAndGlyphs">1000</text>
<line x1="286.30" y1="326.40" x2="288.80" y2="326.40" stroke="#222222" stroke-width="1.0"/>
<text x="270.70" y="328.70" font-size="7.0" font-weight="normal" fill="#222" text-anchor="start" textLength="12.30" lengthAdjust="spacingAndGlyphs">100</text>
<line x1="286.30" y1="351.90" x2="288.80" y2="351.90" stroke="#222222" stroke-width="1.0"/>
<text x="274.80" y="354.20" font-size="7.0" font-weight="normal" fill="#222" text-anchor="start" textLength="8.20" lengthAdjust="spacingAndGlyphs">10</text>
<line x1="286.30" y1="370.50" x2="288.80" y2="370.50" stroke="#222222" stroke-width="1.0"/>
<text x="278.90" y="372.80" font-size="7.0" font-weight="normal" fill="#222" text-anchor="start" textLength="4.10" lengthAdjust="spacingAndGlyphs">1</text>
<line x1="286.30" y1="378.80" x2="288.80" y2="378.80" stroke="#222222" stroke-width="1.0"/>
<text x="278.90" y="381.80" font-size="7.0" font-weight="normal" fill="#222" text-anchor="start" textLength="4.10" lengthAdjust="spacingAndGlyphs">0</text>
<line x1="288.20" y1="383.00" x2="366.30" y2="383.00" stroke="#222222" stroke-width="1.2"/>
<line x1="314.30" y1="383.00" x2="314.30" y2="385.50" stroke="#222222" stroke-width="0.9"/>
<line x1="339.30" y1="383.00" x2="339.30" y2="385.50" stroke="#222222" stroke-width="0.9"/>
<text x="282.00" y="396.30" font-size="7.5" font-weight="normal" fill="#222" text-anchor="start" textLength="46.00" lengthAdjust="spacingAndGlyphs">chemotherapy</text>
<text x="335.00" y="396.30" font-size="7.5" font-weight="normal" fill="#222" text-anchor="start" textLength="25.80" lengthAdjust="spacingAndGlyphs">ibrutinib</text>
<line x1="302.50" y1="315.00" x2="314.50" y2="315.00" stroke="#808080" stroke-width="1.1"/>
<circle cx="308.80" cy="311.00" r="0.9" fill="#333"/>
<line x1="306.60" y1="343.80" x2="306.60" y2="352.00" stroke="#4a4a4a" stroke-width="0.85"/>
<line x1="305.70" y1="343.80" x2="307.50" y2="343.80" stroke="#4a4a4a" stroke-width="0.6"/>
<line x1="306.60" y1="360.50" x2="306.60" y2="367.00" stroke="#4a4a4a" stroke-width="0.85"/>
<line x1="305.70" y1="367.00" x2="307.50" y2="367.00" stroke="#4a4a4a" stroke-width="0.6"/>
<rect x="304.50" y="352.00" width="4.30" height="8.50" fill="#d0103a" stroke="#7a0a25" stroke-width="0.45"/>
<line x1="304.50" y1="356.30" x2="308.80" y2="356.30" stroke="#7a0a25" stroke-width="0.8"/>
<line x1="311.60" y1="325.50" x2="311.60" y2="330.00" stroke="#4a4a4a" stroke-width="0.85"/>
<line x1="310.70" y1="325.50" x2="312.50" y2="325.50" stroke="#4a4a4a" stroke-width="0.6"/>
<line x1="311.60" y1="344.30" x2="311.60" y2="357.00" stroke="#4a4a4a" stroke-width="0.85"/>
<line x1="310.70" y1="357.00" x2="312.50" y2="357.00" stroke="#4a4a4a" stroke-width="0.6"/>
<rect x="309.50" y="330.00" width="4.30" height="14.30" fill="#1f4f8e" stroke="#0b2a52" stroke-width="0.45"/>
<line x1="309.50" y1="336.30" x2="313.80" y2="336.30" stroke="#0b2a52" stroke-width="0.8"/>
<line x1="341.50" y1="316.30" x2="341.50" y2="332.50" stroke="#4a4a4a" stroke-width="0.85"/>
<line x1="340.60" y1="316.30" x2="342.40" y2="316.30" stroke="#4a4a4a" stroke-width="0.6"/>
<line x1="341.50" y1="352.00" x2="341.50" y2="359.30" stroke="#4a4a4a" stroke-width="0.85"/>
<line x1="340.60" y1="359.30" x2="342.40" y2="359.30" stroke="#4a4a4a" stroke-width="0.6"/>
<rect x="339.30" y="332.50" width="4.50" height="19.50" fill="#d0103a" stroke="#7a0a25" stroke-width="0.45"/>
<line x1="339.30" y1="345.00" x2="343.80" y2="345.00" stroke="#7a0a25" stroke-width="0.8"/>
<line x1="346.90" y1="316.30" x2="346.90" y2="325.00" stroke="#4a4a4a" stroke-width="0.85"/>
<line x1="346.00" y1="316.30" x2="347.80" y2="316.30" stroke="#4a4a4a" stroke-width="0.6"/>
<line x1="346.90" y1="341.80" x2="346.90" y2="363.80" stroke="#4a4a4a" stroke-width="0.85"/>
<line x1="346.00" y1="363.80" x2="347.80" y2="363.80" stroke="#4a4a4a" stroke-width="0.6"/>
<rect x="344.50" y="325.00" width="4.80" height="16.80" fill="#1f4f8e" stroke="#0b2a52" stroke-width="0.45"/>
<line x1="344.50" y1="333.80" x2="349.30" y2="333.80" stroke="#0b2a52" stroke-width="0.8"/>
<circle cx="347.00" cy="368.80" r="0.85" fill="#333"/>
<text x="431.60" y="288.00" font-size="9.2" font-weight="normal" fill="#222" text-anchor="start" textLength="30.00" lengthAdjust="spacingAndGlyphs">CD133</text>
<line x1="408.80" y1="298.70" x2="408.80" y2="383.00" stroke="#222222" stroke-width="1.2"/>
<line x1="406.30" y1="300.70" x2="408.80" y2="300.70" stroke="#222222" stroke-width="1.0"/>
<text x="386.60" y="303.00" font-size="7.0" font-weight="normal" fill="#222" text-anchor="start" textLength="16.40" lengthAdjust="spacingAndGlyphs">1000</text>
<line x1="406.30" y1="326.40" x2="408.80" y2="326.40" stroke="#222222" stroke-width="1.0"/>
<text x="390.70" y="328.70" font-size="7.0" font-weight="normal" fill="#222" text-anchor="start" textLength="12.30" lengthAdjust="spacingAndGlyphs">100</text>
<line x1="406.30" y1="351.90" x2="408.80" y2="351.90" stroke="#222222" stroke-width="1.0"/>
<text x="394.80" y="354.20" font-size="7.0" font-weight="normal" fill="#222" text-anchor="start" textLength="8.20" lengthAdjust="spacingAndGlyphs">10</text>
<line x1="406.30" y1="370.50" x2="408.80" y2="370.50" stroke="#222222" stroke-width="1.0"/>
<text x="398.90" y="372.80" font-size="7.0" font-weight="normal" fill="#222" text-anchor="start" textLength="4.10" lengthAdjust="spacingAndGlyphs">1</text>
<line x1="406.30" y1="378.80" x2="408.80" y2="378.80" stroke="#222222" stroke-width="1.0"/>
<text x="398.90" y="381.80" font-size="7.0" font-weight="normal" fill="#222" text-anchor="start" textLength="4.10" lengthAdjust="spacingAndGlyphs">0</text>
<line x1="408.20" y1="383.00" x2="485.00" y2="383.00" stroke="#222222" stroke-width="1.2"/>
<line x1="433.80" y1="383.00" x2="433.80" y2="385.50" stroke="#222222" stroke-width="0.9"/>
<line x1="459.30" y1="383.00" x2="459.30" y2="385.50" stroke="#222222" stroke-width="0.9"/>
<text x="402.50" y="396.30" font-size="7.5" font-weight="normal" fill="#222" text-anchor="start" textLength="45.50" lengthAdjust="spacingAndGlyphs">chemotherapy</text>
<text x="455.00" y="396.30" font-size="7.5" font-weight="normal" fill="#222" text-anchor="start" textLength="25.80" lengthAdjust="spacingAndGlyphs">ibrutinib</text>
<rect x="425.00" y="372.50" width="4.30" height="5.50" fill="#d0103a" stroke="#7a0a25" stroke-width="0.45"/>
<circle cx="427.00" cy="344.50" r="0.85" fill="#333"/>
<line x1="432.10" y1="346.30" x2="432.10" y2="351.00" stroke="#4a4a4a" stroke-width="0.85"/>
<line x1="431.20" y1="346.30" x2="433.00" y2="346.30" stroke="#4a4a4a" stroke-width="0.6"/>
<line x1="432.10" y1="372.30" x2="432.10" y2="377.50" stroke="#4a4a4a" stroke-width="0.85"/>
<line x1="431.20" y1="377.50" x2="433.00" y2="377.50" stroke="#4a4a4a" stroke-width="0.6"/>
<rect x="430.00" y="351.00" width="4.30" height="21.30" fill="#1f4f8e" stroke="#0b2a52" stroke-width="0.45"/>
<line x1="430.00" y1="361.80" x2="434.30" y2="361.80" stroke="#0b2a52" stroke-width="0.8"/>
<line x1="462.10" y1="346.00" x2="462.10" y2="362.30" stroke="#4a4a4a" stroke-width="0.85"/>
<line x1="461.20" y1="346.00" x2="463.00" y2="346.00" stroke="#4a4a4a" stroke-width="0.6"/>
<line x1="462.10" y1="375.50" x2="462.10" y2="378.00" stroke="#4a4a4a" stroke-width="0.85"/>
<line x1="461.20" y1="378.00" x2="463.00" y2="378.00" stroke="#4a4a4a" stroke-width="0.6"/>
<rect x="460.00" y="362.30" width="4.30" height="13.20" fill="#d0103a" stroke="#7a0a25" stroke-width="0.45"/>
<line x1="460.00" y1="368.50" x2="464.30" y2="368.50" stroke="#7a0a25" stroke-width="0.8"/>
<line x1="467.10" y1="344.30" x2="467.10" y2="358.80" stroke="#4a4a4a" stroke-width="0.85"/>
<line x1="466.20" y1="344.30" x2="468.00" y2="344.30" stroke="#4a4a4a" stroke-width="0.6"/>
<line x1="467.10" y1="371.80" x2="467.10" y2="378.00" stroke="#4a4a4a" stroke-width="0.85"/>
<line x1="466.20" y1="378.00" x2="468.00" y2="378.00" stroke="#4a4a4a" stroke-width="0.6"/>
<rect x="465.00" y="358.80" width="4.30" height="13.00" fill="#1f4f8e" stroke="#0b2a52" stroke-width="0.45"/>
<line x1="465.00" y1="366.80" x2="469.30" y2="366.80" stroke="#0b2a52" stroke-width="0.8"/>
<circle cx="467.50" cy="331.30" r="0.85" fill="#333"/>
<rect x="201.50" y="404.20" width="4.00" height="4.20" fill="#d0103a"/>
<text x="208.50" y="408.60" font-size="6.6" font-weight="normal" fill="#222" text-anchor="start" textLength="48.50" lengthAdjust="spacingAndGlyphs">Partial remission</text>
<rect x="263.00" y="404.20" width="4.00" height="4.20" fill="#1f4f8e"/>
<text x="270.00" y="408.60" font-size="6.6" font-weight="normal" fill="#222" text-anchor="start" textLength="60.00" lengthAdjust="spacingAndGlyphs">Complete remission</text>
<rect x="0.5" y="0.5" width="519" height="416" fill="none" stroke="#5e5e5e" stroke-width="1"/>
</svg>
</body></html>
